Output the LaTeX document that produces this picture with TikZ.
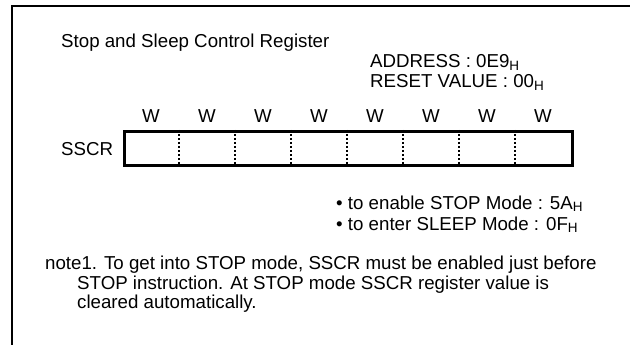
\documentclass[tikz,border=0pt]{standalone}
\usepackage{fontspec}
\setmainfont{Liberation Sans}
\begin{document}
\begin{tikzpicture}[x=1pt,y=-1pt,
  txt/.style={inner sep=0pt,font=\fontsize{18.7}{21}\selectfont},
  lft/.style={txt,anchor=base west},
  frame/.style={line width=2.4pt},
  regbox/.style={line width=3pt},
  divider/.style={line width=1.4pt,dash pattern=on 2.2pt off 1.8pt}]
\newcommand{\hsub}{\raisebox{-0.3ex}{\fontsize{13.5}{14}\selectfont H}}
\useasboundingbox (0,0) rectangle (630,345);
% outer frame (top and left)
\coordinate (ftl) at (12,6);
\coordinate (ftr) at (631,6);
\coordinate (fbl) at (12,346);
\draw[frame] (ftr) -- (ftl) -- (fbl);
% title and address
\node[lft] (title) at (61,48) {Stop and Sleep Control Register};
\node[lft] (addr) at (370,68) {ADDRESS : 0E9\hsub};
\node[lft] (rst) at (370,88) {RESET VALUE : 00\hsub};
% register
\node[lft] (sscr) at (61,155) {SSCR};
\node[regbox,draw,minimum width=448pt,minimum height=34pt,inner sep=0pt,anchor=north west] (reg) at (123,130) {};
\foreach \i in {1,...,7}{
  \coordinate (dt\i) at (123+56*\i,130);
  \coordinate (db\i) at (123+56*\i,164);
  \draw[divider] (dt\i) -- (db\i);
}
\foreach \i in {0,...,7}{
  \node[txt,anchor=base] (w\i) at (151+56*\i,122) {W};
}
% values
\node[lft] (b1) at (336,209) {\textbullet\ to enable STOP Mode : 5A\hsub};
\node[lft] (b2) at (336,230) {\textbullet\ to enter SLEEP Mode : 0F\hsub};
% note
\node[lft] (n1) at (45,269) {note1. To get into STOP mode, SSCR must be enabled just before};
\node[lft] (n2) at (77,289) {STOP instruction. At STOP mode SSCR register value is};
\node[lft] (n3) at (77,308) {cleared automatically.};
\end{tikzpicture}
\end{document}
